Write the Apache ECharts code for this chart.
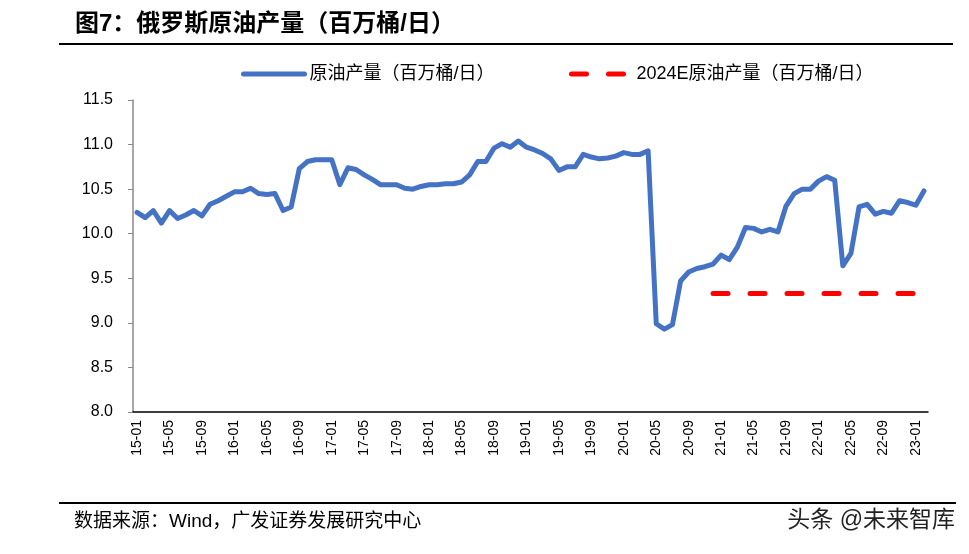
<!DOCTYPE html>
<html>
<head>
<meta charset="utf-8">
<script src="https://cdn.jsdelivr.net/npm/echarts@6/dist/echarts.min.js"></script>
<style>
  html, body { margin: 0; padding: 0; background: #fff; }
  #chart { width: 969px; height: 554px; }
</style>
</head>
<body>
<div id="chart"></div>
<script>
var years = ['15', '16', '17', '18', '19', '20', '21', '22', '23'];
var months = ['01', '02', '03', '04', '05', '06', '07', '08', '09', '10', '11', '12'];
var lastMonth = '23-02';

// 原油产量（百万桶/日），15-01 至 23-02
var oilOutput = [
	10.24, 10.18, 10.26, 10.12, 10.26, 10.17, 10.21, 10.26, 10.20, 10.33, 10.37, 10.42,
	10.47, 10.47, 10.51, 10.45, 10.44, 10.45, 10.26, 10.30, 10.73, 10.81, 10.83, 10.83,
	10.83, 10.55, 10.74, 10.72, 10.66, 10.61, 10.55, 10.55, 10.55, 10.51, 10.50, 10.53,
	10.55, 10.55, 10.56, 10.56, 10.58, 10.66, 10.81, 10.81, 10.96, 11.01, 10.97, 11.04,
	10.97, 10.94, 10.90, 10.84, 10.71, 10.75, 10.75, 10.89, 10.86, 10.84, 10.85, 10.87,
	10.91, 10.89, 10.89, 10.93, 8.99, 8.93, 8.98, 9.47, 9.57, 9.61, 9.63, 9.66,
	9.76, 9.71, 9.85, 10.07, 10.06, 10.02, 10.05, 10.02, 10.31, 10.45, 10.50, 10.50,
	10.59, 10.64, 10.60, 9.64, 9.78, 10.30, 10.33, 10.22, 10.25, 10.23, 10.37, 10.35,
	10.32, 10.48
];

// 2024E原油产量
var forecastValue = 9.33;
var forecastStart = '20-12';
var forecastEnd = '23-01';

var yTicks = [8.0, 8.5, 9.0, 9.5, 10.0, 10.5, 11.0, 11.5];

var categories = [];
years.forEach(function(y) {
	months.forEach(function(m) {
		if (categories.length && categories[categories.length - 1] === lastMonth) return;
		categories.push(y + '-' + m);
	});
});

var forecastData = categories.map(function(c, i) {
	var s = categories.indexOf(forecastStart), e = categories.indexOf(forecastEnd);
	return (i >= s && i <= e) ? forecastValue : null;
});

var latin = 'Liberation Sans, Arial, Noto Sans CJK SC, sans-serif';

var chart = echarts.init(document.getElementById('chart'));
chart.setOption({
	animation: false,
	backgroundColor: '#fff',
	grid: { left: 133, right: 41, top: 100, bottom: 142 },
	legend: [{
		left: 241, top: 65, padding: 0, itemWidth: 61, itemHeight: 20,
		data: ['原油产量（百万桶/日）'],
		itemStyle: { opacity: 0 },
		lineStyle: { width: 5, cap: 'round' },
		textStyle: { fontSize: 18, color: '#000', fontFamily: latin }
	}, {
		left: 569, top: 65, padding: 0, itemWidth: 60, itemHeight: 20,
		data: ['2024E原油产量（百万桶/日）'],
		itemStyle: { opacity: 0 },
		lineStyle: { width: 5, type: [15, 22], cap: 'round' },
		textStyle: { fontSize: 18, color: '#000', fontFamily: latin }
	}],
	xAxis: {
		type: 'category',
		data: categories,
		boundaryGap: true,
		axisLine: { lineStyle: { color: '#000', width: 1.5 } },
		axisTick: { interval: 3, length: 5, lineStyle: { color: '#000', width: 1.5 } },
		axisLabel: { interval: 3, rotate: 90, margin: 8, fontSize: 14, color: '#000', fontFamily: latin },
		splitLine: { show: false }
	},
	yAxis: {
		type: 'value',
		min: yTicks[0], max: yTicks[yTicks.length - 1], interval: 0.5,
		axisLine: { show: true, lineStyle: { color: '#898989', width: 1.5 } },
		axisTick: { show: true, length: 5, lineStyle: { color: '#898989' } },
		axisLabel: { margin: 20, fontSize: 16, color: '#000', fontFamily: latin,
			formatter: function(v) { return v.toFixed(1); } },
		splitLine: { show: false }
	},
	series: [{
		name: '原油产量（百万桶/日）',
		type: 'line',
		data: oilOutput,
		symbol: 'none',
		lineStyle: { color: '#4472C4', width: 5, cap: 'round', join: 'round' },
		itemStyle: { color: '#4472C4' }
	}, {
		name: '2024E原油产量（百万桶/日）',
		type: 'line',
		data: forecastData,
		symbol: 'none',
		lineStyle: { color: '#FF0000', width: 5, type: [15, 22], cap: 'round' },
		itemStyle: { color: '#FF0000' }
	}],
	graphic: [
		{ type: 'text', left: 75, top: 12,
			style: { text: '图7：俄罗斯原油产量（百万桶/日）', font: 'bold 24px ' + latin, fill: '#000' } },
		{ type: 'line', shape: { x1: 59, y1: 44, x2: 953, y2: 44 }, style: { stroke: '#000', lineWidth: 2 } },
		{ type: 'line', shape: { x1: 59, y1: 503, x2: 956, y2: 503 }, style: { stroke: '#000', lineWidth: 2 } },
		{ type: 'text', left: 74, top: 512,
			style: { text: '数据来源：Wind，广发证券发展研究中心', font: '19px ' + latin, fill: '#000' } },
		{ type: 'text', right: 14, top: 509,
			style: { text: '头条 @未来智库', font: '23px ' + latin, fill: '#222' } }
	]
});
</script>
</body>
</html>
